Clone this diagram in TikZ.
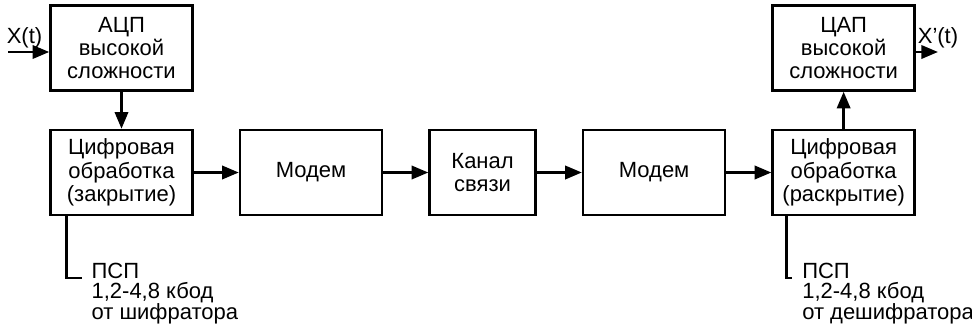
\documentclass[tikz,border=0pt]{standalone}
\usepackage{fontspec}
\setmainfont{Liberation Sans}
\usetikzlibrary{arrows.meta, positioning}

\begin{document}
\begin{tikzpicture}[
  x=0.75pt, y=-0.75pt,
  node distance=27.75pt and 33.75pt,
  box/.style={
    rectangle, draw=black, line width=1.9pt,
    font=\fontsize{16.5}{17.5}\selectfont, align=center, inner sep=2pt,
    minimum width=106.5pt, minimum height=63.75pt
  },
  narrowbox/.style={box, minimum width=79.5pt},
  arr/.style={-{Triangle[length=12.5pt, width=10pt]}, line width=1.9pt},
  wire/.style={line width=1.9pt},
  lbl/.style={font=\fontsize{16.5}{17.5}\selectfont, inner sep=2pt},
  note/.style={font=\fontsize{16.5}{15.5}\selectfont, align=left,
    inner sep=0pt, anchor=base west}
]
  \useasboundingbox (0,0) rectangle (972,326);
  \node[box] (dig1) at (121.5,172.5) {Цифровая\\обработка\\(закрытие)};
  \node[box, above=of dig1] (adc) {АЦП\\высокой\\сложности};
  \node[box, right=of dig1] (mod1) {Модем};
  \node[narrowbox, right=of mod1] (chan) {Канал\\связи};
  \node[box, right=of chan] (mod2) {Модем};
  \node[box, right=of mod2] (dig2) {Цифровая\\обработка\\(раскрытие)};
  \node[box, above=of dig2] (dac) {ЦАП\\высокой\\сложности};
  \coordinate (xin) at (8,52);
  \coordinate (xout) at (938,52);
  \coordinate (psp1) at (82,278);
  \coordinate (psp2) at (792,278);
  \draw[arr] (xin) -- node[lbl, above, pos=0.4] (xlbl) {X(t)} (adc.west|-xin);
  \draw[arr] (dac.east|-xout) -- (xout) node[lbl, above] (xoutlbl) {X’(t)};
  \draw[arr] (adc) -- (dig1);
  \draw[arr] (dig2) -- (dac);
  \foreach \a/\b in {dig1/mod1,mod1/chan,chan/mod2,mod2/dig2}
    \draw[arr] (\a)--(\b);
  \draw[wire] ([xshift=12.75pt]dig1.south west) |- (psp1);
  \draw[wire] ([xshift=11.25pt]dig2.south west) |- (psp2);
  \node[note] (psptxt1) at ([xshift=7pt, yshift=-31pt]psp1) {ПСП\\1,2-4,8 кбод\\от шифратора};
  \node[note] (psptxt2) at ([xshift=7.5pt, yshift=-31pt]psp2) {ПСП\\1,2-4,8 кбод\\от дешифратора};
\end{tikzpicture}
\end{document}
